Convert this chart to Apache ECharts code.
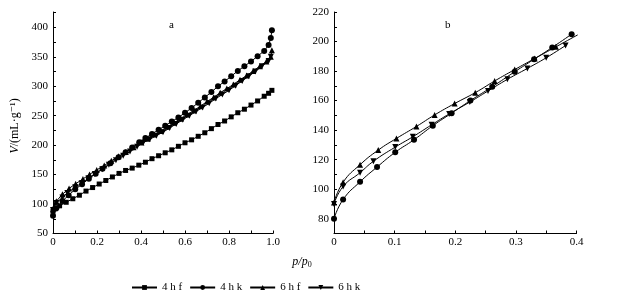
<!DOCTYPE html>
<html><head><meta charset="utf-8">
<script src="https://cdn.jsdelivr.net/npm/echarts@6/dist/echarts.min.js"></script>
<style>html,body{margin:0;padding:0;background:#fff}#c{width:634px;height:297px}</style>
</head><body><div id="c"></div>
<script>
var seriesNames = ['4 h f', '4 h k', '6 h f', '6 h k'];
var x4hf = [0, 0.01, 0.03, 0.06, 0.09, 0.12, 0.15, 0.18, 0.21, 0.24, 0.27, 0.30, 0.33, 0.36, 0.39, 0.42, 0.45, 0.48, 0.51, 0.54, 0.57, 0.60, 0.63, 0.66, 0.69, 0.72, 0.75, 0.78, 0.81, 0.84, 0.87, 0.90, 0.93, 0.96, 0.98, 0.995];
var v4hf = [88, 92, 97, 103, 109, 115, 122, 128, 134, 140, 146, 152, 157, 161, 166, 171, 177, 182, 187, 192, 198, 204, 209, 215, 221, 228, 235, 241, 248, 255, 261, 268, 275, 283, 288, 293];
var x4hk = [0, 0.015, 0.043, 0.071, 0.101, 0.132, 0.163, 0.194, 0.225, 0.261, 0.298, 0.33, 0.36, 0.392, 0.42, 0.45, 0.48, 0.51, 0.54, 0.57, 0.60, 0.63, 0.66, 0.69, 0.72, 0.75, 0.78, 0.81, 0.84, 0.87, 0.90, 0.93, 0.96, 0.98, 0.99, 0.995];
var v4hk = [80, 93, 105, 115, 125, 133.5, 143, 151.5, 160, 169.4, 179.5, 188, 196, 205, 212, 219, 226, 233, 240, 247, 255, 263, 272, 281, 290, 300, 308, 317, 326, 334, 342, 351, 360, 370, 382, 395];
var x6hf = [0, 0.015, 0.043, 0.073, 0.103, 0.136, 0.166, 0.199, 0.233, 0.265, 0.298, 0.331, 0.366, 0.402, 0.43, 0.46, 0.49, 0.52, 0.55, 0.58, 0.61, 0.64, 0.67, 0.70, 0.73, 0.76, 0.79, 0.82, 0.85, 0.88, 0.91, 0.94, 0.97, 0.99, 0.995];
var v6hf = [91, 104.7, 116.6, 126.5, 134.4, 142.5, 150.3, 158, 165.4, 173.3, 181, 188.5, 196.4, 204.5, 211, 218, 224, 231, 238, 245, 252, 259, 266, 274, 281, 289, 296, 303, 311, 318, 326, 334, 342, 350, 361];
var x6hk = [0, 0.015, 0.043, 0.065, 0.101, 0.13, 0.161, 0.19, 0.224, 0.254, 0.286, 0.319, 0.35, 0.382, 0.41, 0.44, 0.47, 0.50, 0.53, 0.56, 0.59, 0.62, 0.65, 0.68, 0.71, 0.74, 0.77, 0.80, 0.83, 0.86, 0.89, 0.92, 0.95, 0.98, 0.99];
var v6hk = [90, 101.8, 111.2, 118.9, 128.5, 135.5, 143.6, 151, 159, 166.5, 174.4, 181.8, 189, 197.3, 204, 210, 216, 222, 229, 236, 243, 250, 257, 264, 271, 279, 286, 293, 301, 309, 317, 325, 334, 343, 350];
var leftYTicks = [50, 100, 150, 200, 250, 300, 350, 400];
var rightYTicks = [80, 100, 120, 140, 160, 180, 200, 220];
var panelTitles = ['a', 'b'];

function pairs(xs, vs, maxX) {
  var out = [];
  for (var i = 0; i < xs.length; i++) if (maxX == null || xs[i] <= maxX) out.push([xs[i], vs[i]]);
  return out;
}
var FONT = "'Liberation Serif','DejaVu Serif',serif";
var syms = ['rect', 'circle', 'triangle', 'triangle'];
var rots = [0, 0, 0, 180];
var allX = [x4hf, x4hk, x6hf, x6hk];
var allV = [v4hf, v4hk, v6hf, v6hk];

var axisCommon = {
  axisLine: {show: true, onZero: false, lineStyle: {color: '#000', width: 1}},
  axisTick: {show: true, inside: true, length: 3, lineStyle: {color: '#000'}},
  splitLine: {show: false},
  axisLabel: {color: '#000', fontFamily: FONT, fontSize: 11}
};
function ax(extra) { return Object.assign({}, JSON.parse(JSON.stringify(axisCommon)), extra); }

var series = [];
for (var i = 0; i < 4; i++) {
  series.push({
    name: seriesNames[i], type: 'line', xAxisIndex: 0, yAxisIndex: 0,
    data: pairs(allX[i], allV[i]), symbol: syms[i], symbolRotate: rots[i],
    symbolSize: i === 0 ? 5 : 6, showAllSymbol: true,
    lineStyle: {color: '#000', width: 1}, itemStyle: {color: '#000'}, animation: false
  });
}
for (var j = 1; j < 4; j++) {
  series.push({
    name: seriesNames[j], type: 'line', xAxisIndex: 1, yAxisIndex: 1,
    data: pairs(allX[j], allV[j], 0.405), symbol: syms[j], symbolRotate: rots[j],
    symbolSize: 6, smooth: true, showAllSymbol: true,
    lineStyle: {color: '#000', width: 1}, itemStyle: {color: '#000'}, animation: false
  });
}

var chart = echarts.init(document.getElementById('c'), null, {renderer: 'canvas'});
chart.setOption({
  animation: false,
  backgroundColor: '#fff',
  grid: [
    {left: 53, top: 12, width: 220, height: 221.5},
    {left: 334, top: 12, width: 242.5, height: 221.5}
  ],
  xAxis: [
    ax({gridIndex: 0, type: 'value', min: 0, max: 1, interval: 0.1,
      axisLabel: Object.assign({}, axisCommon.axisLabel, {margin: 3, formatter: function (v) {
        var k = Math.round(v * 10); if (k % 2) return ''; return k === 0 ? '0' : (k / 10).toFixed(1); }})}),
    ax({gridIndex: 1, type: 'value', min: 0, max: 0.4, interval: 0.05,
      axisLabel: Object.assign({}, axisCommon.axisLabel, {margin: 3, formatter: function (v) {
        var k = Math.round(v * 20); if (k % 2) return ''; return k === 0 ? '0' : (k / 20).toFixed(1); }})})
  ],
  yAxis: [
    ax({gridIndex: 0, type: 'value', min: 50, max: 426, interval: 25,
      axisLabel: Object.assign({}, axisCommon.axisLabel, {margin: 5, formatter: function (v) {
        return leftYTicks.indexOf(Math.round(v)) >= 0 ? String(Math.round(v)) : ''; }})}),
    ax({gridIndex: 1, type: 'value', min: 70, max: 220, interval: 10,
      axisLabel: Object.assign({}, axisCommon.axisLabel, {margin: 5, formatter: function (v) {
        return rightYTicks.indexOf(Math.round(v)) >= 0 ? String(Math.round(v)) : ''; }})})
  ],
  legend: {
    data: seriesNames, left: 126, top: 277, itemWidth: 25, itemHeight: 6, itemGap: 7,
    textStyle: {fontFamily: FONT, fontSize: 11, color: '#000'}
  },
  graphic: [
    {type: 'text', left: 169, top: 20, style: {text: panelTitles[0], font: '11px ' + FONT, fill: '#000'}},
    {type: 'text', left: 445, top: 20, style: {text: panelTitles[1], font: '11px ' + FONT, fill: '#000'}},
    {type: 'text', x: 302, y: 262, style: {
      text: '{i|p/p}{s|0}', align: 'center', verticalAlign: 'middle',
      rich: {i: {fontFamily: FONT, fontStyle: 'italic', fontSize: 12, fill: '#000'},
             s: {fontFamily: FONT, fontSize: 8, fill: '#000', padding: [6, 0, 0, 0]}}}},
    {type: 'text', x: 15, y: 126, rotation: Math.PI / 2, style: {
      text: '{i|V}{n|/(mL·g⁻¹)}', align: 'center', verticalAlign: 'middle',
      rich: {i: {fontFamily: FONT, fontStyle: 'italic', fontSize: 12, fill: '#000'},
             n: {fontFamily: FONT, fontSize: 12, fill: '#000'}}}}
  ],
  series: series
});
</script></body></html>
